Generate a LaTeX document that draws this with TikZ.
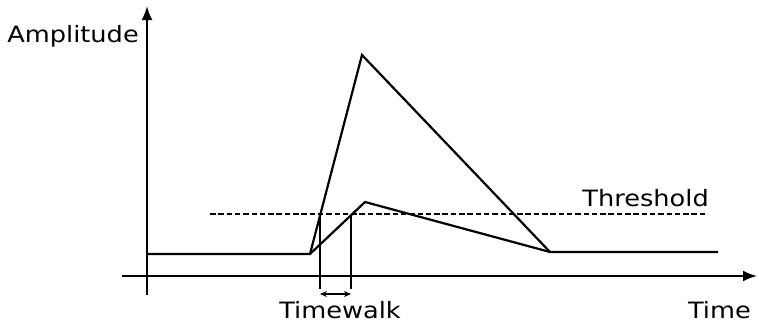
\documentclass[tikz,border=0pt]{standalone}
\usepackage{fontspec}
\setmainfont{DejaVu Sans}[FakeStretch=1.14]
\usetikzlibrary{arrows.meta}
\begin{document}
\begin{tikzpicture}[x=1pt,y=-1pt,line cap=butt,line join=miter,
  axis/.style={line width=2.2pt},
  pulse/.style={line width=2.2pt},
  marker/.style={line width=2.2pt},
  lbl/.style={inner sep=0pt,font=\fontsize{22.5}{26}\selectfont}]
  \useasboundingbox (0,0) rectangle (758,324);
  % axes
  \coordinate (xs) at (122,276);
  \coordinate (xe) at (757,276);
  \coordinate (ys) at (147,295);
  \coordinate (ye) at (147,6);
  \draw[axis,-{Latex[length=14pt,width=11pt]}] (xs) -- (xe);
  \draw[axis,-{Latex[length=14pt,width=11pt]}] (ys) -- (ye);
  \node[lbl,anchor=base east] (amp) at (139,42.5) {Amplitude};
  \node[lbl,anchor=base east] (time) at (751,318.5) {Time};
  % threshold
  \coordinate (ths) at (210,214);
  \coordinate (the) at (708,214);
  \draw[line width=2pt,dash pattern=on 5.5pt off 2.8pt] (ths) -- (the);
  \node[lbl,anchor=base east] (thr) at (709,206.5) {Threshold};
  % pulses
  \coordinate (b0) at (148,254);
  \coordinate (knee) at (310,254);
  \coordinate (bigpk) at (362,55);
  \coordinate (smpk) at (365,202);
  \coordinate (tail) at (550,252);
  \coordinate (b1) at (718,252);
  \draw[pulse] (b0) -- (knee) -- (bigpk) -- (tail) -- (b1);
  \draw[pulse] (knee) -- (smpk) -- (tail);
  % timewalk markers
  \coordinate (m1t) at (320,214);
  \coordinate (m1b) at (320,289);
  \coordinate (m2t) at (351,214);
  \coordinate (m2b) at (351,289);
  \draw[marker] (m1t) -- (m1b);
  \draw[marker] (m2t) -- (m2b);
  \coordinate (w1) at (320,294);
  \coordinate (w2) at (351,294);
  \draw[line width=1.5pt,{Stealth[length=7pt,width=6pt]}-{Stealth[length=7pt,width=6pt]}] (w1) -- (w2);
  \node[lbl,anchor=base] (tw) at (340,318.5) {Timewalk};
\end{tikzpicture}
\end{document}
